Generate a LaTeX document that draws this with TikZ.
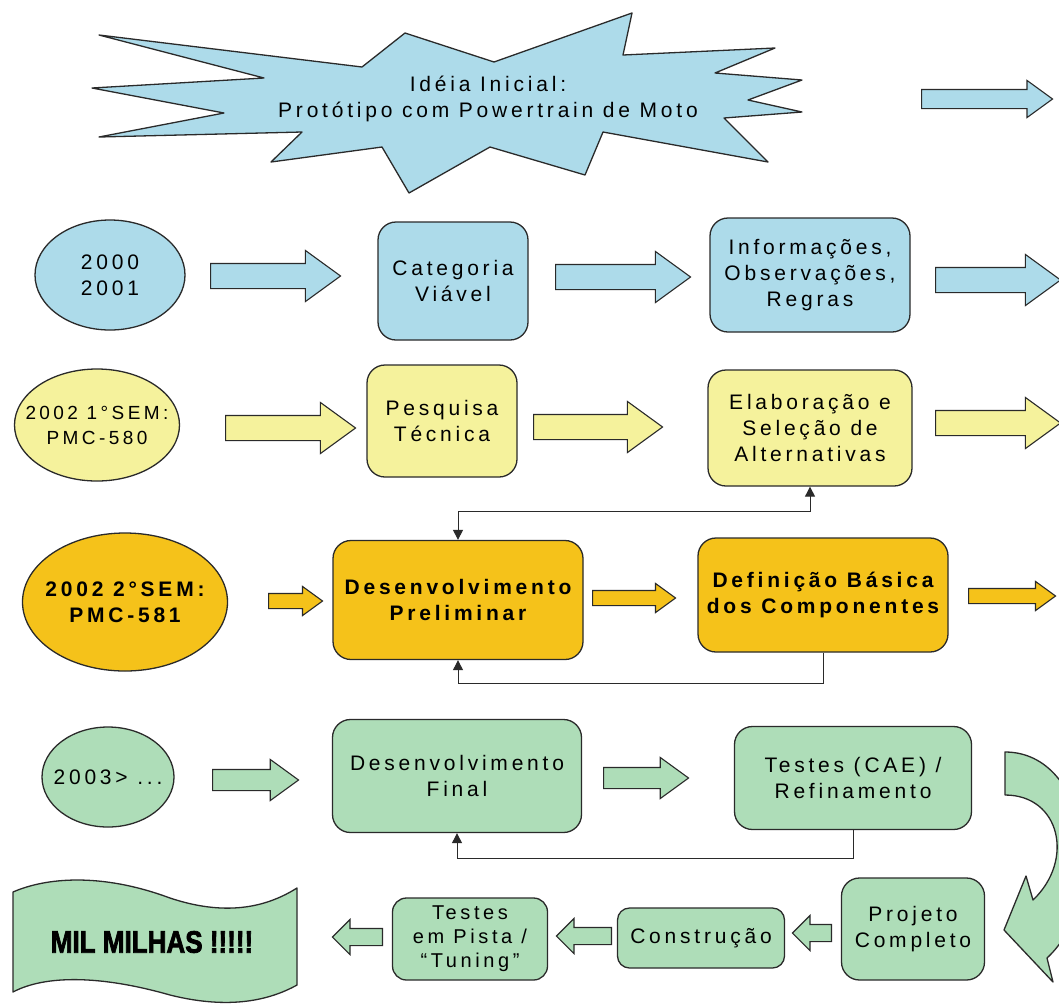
\documentclass[tikz,border=0pt]{standalone}
\usepackage{fontspec}
\setmainfont{Liberation Sans}
\newfontfamily\spc[LetterSpace=18]{Liberation Sans}
\newfontfamily\heavy[FakeBold=2.5]{Liberation Sans}
\usetikzlibrary{shapes.arrows,shapes.geometric,arrows.meta}
\definecolor{cblue}{HTML}{ADDBEA}
\definecolor{cyel}{HTML}{F5F29C}
\definecolor{corg}{HTML}{F5C21A}
\definecolor{cgrn}{HTML}{AEDDB8}
\definecolor{cline}{HTML}{2A2A2A}
\begin{document}
\begin{tikzpicture}[x=1pt,y=-1pt,
  txt/.style={align=center, font=\spc\fontsize{21}{26}\selectfont, inner sep=0pt},
  btxt/.style={align=center, font=\spc\bfseries\fontsize{21}{26}\selectfont, inner sep=0pt},
  box/.style={draw=cline, line width=1.3pt, rounded corners=18pt, txt},
  bbox/.style={draw=cline, line width=1.3pt, rounded corners=18pt, btxt},
  oval/.style={ellipse, draw=cline, line width=1.3pt, inner sep=0pt},
  barrow/.style={single arrow, draw=cline, line width=1.1pt, inner xsep=0pt,
    single arrow tip angle=72, anchor=tail},
  larrow/.style={barrow, shape border rotate=180, single arrow tip angle=90},
  fb/.style={draw=cline, line width=1pt, -{Triangle[width=10pt,length=10pt]}},
  fbb/.style={draw=cline, line width=1pt, {Triangle[width=10pt,length=10pt]}-{Triangle[width=10pt,length=10pt]}},
  shp/.style={draw=cline, line width=1.3pt, line join=round}]
\useasboundingbox (0,0) rectangle (1059,1005);
\fill[white] (0,0) rectangle (1059,1005);

% ---- star
\draw[shp, fill=cblue] (99,35) -- (362,67) -- (405,33) -- (494,62) -- (632,13) -- (623,55)
  -- (775,48) -- (715,73) -- (802,80) -- (748,100) -- (802,112) -- (724,118) -- (768,162)
  -- (603,132) -- (585,175) -- (490,147) -- (409,193) -- (382,147) -- (271,162) -- (302,132)
  -- (99,137) -- (224,113) -- (92,88) -- (264,78) -- cycle;
\node[txt] (idea) at (488,99) {Idéia Inicial:\\Protótipo com Powertrain de Moto};
\node[barrow, fill=cblue, minimum height=131pt, inner ysep=9pt, single arrow head extend=9pt] (a1) at (921,99) {};

% ---- row 2 (blue)
\node[oval, fill=cblue, minimum width=150pt, minimum height=110pt] (e2) at (110,275) {};
\node[txt] (e2t) at (e2.center) {2000\\2001};
\node[box, fill=cblue, minimum width=150pt, minimum height=118pt] (cat) at (453,281) {Categoria\\Viável};
\node[box, fill=cblue, minimum width=200pt, minimum height=114pt] (inf) at (810,275) {Informações,\\Observações,\\Regras};
\node[barrow, fill=cblue, minimum height=130pt, inner ysep=12pt, single arrow head extend=13pt] (a21) at (210,276) {};
\node[barrow, fill=cblue, minimum height=135pt, inner ysep=12pt, single arrow head extend=13pt] (a22) at (555,277) {};
\node[barrow, fill=cblue, minimum height=125pt, inner ysep=12pt, single arrow head extend=13pt] (a23) at (935,280) {};

% ---- row 3 (yellow)
\node[oval, fill=cyel, minimum width=165pt, minimum height=112pt] (e3) at (97,425) {};
\node[txt, font=\spc\fontsize{19}{25}\selectfont] (e3t) at (e3.center) {2002 1°SEM:\\PMC-580};
\node[box, fill=cyel, minimum width=150pt, minimum height=112pt] (pes) at (442,421) {Pesquisa\\Técnica};
\node[box, fill=cyel, minimum width=204pt, minimum height=116pt] (ela) at (810,428) {Elaboração e\\Seleção de\\Alternativas};
\node[barrow, fill=cyel, minimum height=130pt, inner ysep=12pt, single arrow head extend=13pt] (a31) at (225,428) {};
\node[barrow, fill=cyel, minimum height=129pt, inner ysep=12pt, single arrow head extend=13pt] (a32) at (533,427) {};
\node[barrow, fill=cyel, minimum height=125pt, inner ysep=12pt, single arrow head extend=13pt] (a33) at (935,423) {};

% ---- row 4 (orange)
\node[oval, fill=corg, minimum width=205pt, minimum height=138pt] (e4) at (125,602) {};
\node[btxt] (e4t) at (e4.center) {2002 2°SEM:\\PMC-581};
\node[bbox, fill=corg, minimum width=250pt, minimum height=119pt] (dpr) at (458,600) {Desenvolvimento\\Preliminar};
\node[bbox, fill=corg, minimum width=250pt, minimum height=114pt] (def) at (823,595) {Definição Básica\\dos Componentes};
\node[barrow, fill=corg, minimum height=54pt, inner ysep=7pt, single arrow head extend=7pt] (a41) at (268,601) {};
\node[barrow, fill=corg, minimum height=83pt, inner ysep=7pt, single arrow head extend=7pt] (a42) at (592,598) {};
\node[barrow, fill=corg, minimum height=87pt, inner ysep=7pt, single arrow head extend=7pt] (a43) at (968,596) {};
\draw[fbb] (dpr.north) -- (dpr.north |- 0,511) -| (ela.south);
\draw[fb] (def.south) -- (def.south |- 0,683) -| (dpr.south);

% ---- row 5 (green)
\node[oval, fill=cgrn, minimum width=132pt, minimum height=100pt] (e5) at (108,777) {};
\node[txt] (e5t) at (e5.center) {2003> ...};
\node[box, fill=cgrn, minimum width=249pt, minimum height=113pt] (dfi) at (457,776) {Desenvolvimento\\Final};
\node[box, fill=cgrn, minimum width=237pt, minimum height=103pt] (tca) at (853,778) {Testes (CAE) /\\Refinamento};
\node[barrow, fill=cgrn, minimum height=86pt, inner ysep=10pt, single arrow head extend=10pt] (a51) at (212,780) {};
\node[barrow, fill=cgrn, minimum height=85pt, inner ysep=10pt, single arrow head extend=10pt] (a52) at (603,778) {};
\draw[fb] (tca.south) -- (tca.south |- 0,858) -| (dfi.south);

% curved arrow
\draw[shp, fill=cgrn] (1005,752) .. controls (1090,752) and (1110,900) .. (1047,958)
  -- (1053,982) -- (1004,930) -- (1026,876) -- (1033,900)
  .. controls (1075,860) and (1060,795) .. (1005,795) -- cycle;

% ---- row 6
\node[box, fill=cgrn, minimum width=143pt, minimum height=102pt] (pro) at (913,929) {Projeto\\Completo};
\node[box, fill=cgrn, minimum width=167pt, minimum height=60pt, rounded corners=12pt] (con) at (701,938) {Construção};
\node[box, fill=cgrn, minimum width=155pt, minimum height=82pt, rounded corners=14pt, font=\spc\fontsize{20}{24}\selectfont] (tpi) at (470,939) {Testes\\em Pista /\\“Tuning”};
\node[larrow, fill=cgrn, minimum height=39pt, inner ysep=8pt, single arrow head extend=9pt] (a63) at (832,933) {};
\node[larrow, fill=cgrn, minimum height=55pt, inner ysep=8pt, single arrow head extend=9pt] (a62) at (612,936) {};
\node[larrow, fill=cgrn, minimum height=50pt, inner ysep=8pt, single arrow head extend=9pt] (a61) at (383,937) {};

% flag
\draw[shp, fill=cgrn] (13,892) .. controls (45,878) and (100,872) .. (170,898)
  .. controls (230,918) and (270,905) .. (297,888) -- (297,985)
  .. controls (270,1000) and (230,1010) .. (170,995)
  .. controls (100,975) and (45,975) .. (13,992) -- cycle;
\node[font=\heavy\bfseries\fontsize{31}{31}\selectfont, xscale=0.84] (mil) at (152,942) {MIL MILHAS !!!!!};
\end{tikzpicture}
\end{document}
